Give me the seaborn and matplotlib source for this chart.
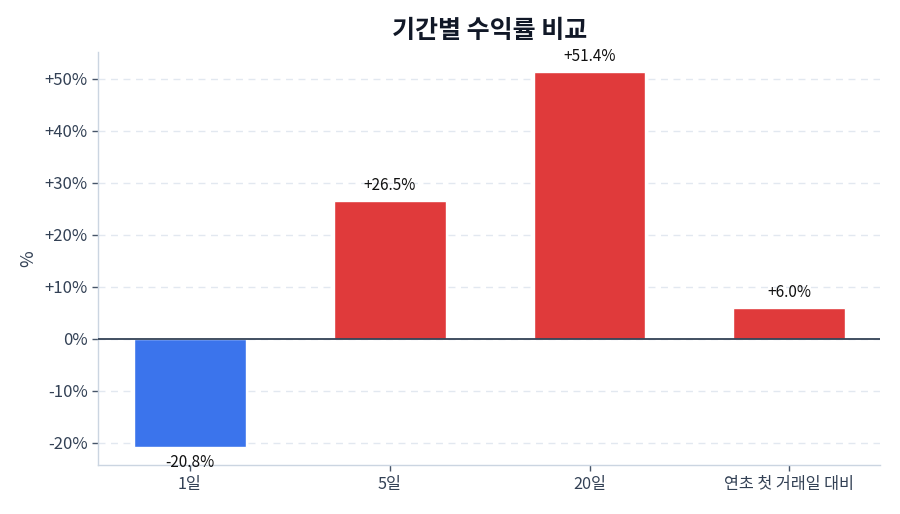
import matplotlib
matplotlib.use("Agg")
import matplotlib.pyplot as plt
import seaborn as sns
import pandas as pd
from matplotlib.ticker import FuncFormatter

categories = ["1일", "5일", "20일", "연초 첫 거래일 대비"]
returns = [-20.8, 26.5, 51.4, 6.0]
title = "기간별 수익률 비교"

POS = "#e03a3b"
NEG = "#3b74ec"
colors = [NEG if v < 0 else POS for v in returns]

sns.set_theme(style="white")
plt.rcParams['font.family'] = ['Noto Sans CJK KR', 'DejaVu Sans']

df = pd.DataFrame({"period": categories, "ret": returns})

fig = plt.figure(figsize=(9, 5.14), dpi=100)
ax = fig.add_axes([0.109, 0.095, 0.869, 0.804])

sns.barplot(data=df, x="period", y="ret", hue="period", palette=colors,
            legend=False, width=0.56, ax=ax, saturation=1)

ax.axhline(0, color="#334155", lw=1.3, zorder=3)
ax.set_ylim(-24.3, 55.2)
ax.set_xlim(-0.46, 3.455)
ax.set_yticks([-20, -10, 0, 10, 20, 30, 40, 50])
ax.yaxis.set_major_formatter(FuncFormatter(lambda v, p: f"{v:+.0f}%" if v != 0 else "0%"))
ax.grid(axis="y", color="#e2e8f0", linestyle=(0, (5, 4)), lw=1)
ax.set_axisbelow(True)

for s in ["top", "right"]:
    ax.spines[s].set_visible(False)
for s in ["left", "bottom"]:
    ax.spines[s].set_color("#cbd5e1")
    ax.spines[s].set_linewidth(1)

ax.tick_params(axis="both", which="both", length=4, width=1, color="#475569",
               labelcolor="#334155", labelsize=12, left=True, bottom=True)
ax.tick_params(axis="x", labelsize=11.7)
ax.set_xlabel("")
ax.set_ylabel("%", fontsize=13, color="#334155", labelpad=5)
ax.set_title(title, fontsize=18, fontweight="bold", color="#111827", pad=10)

for i, v in enumerate(returns):
    if v >= 0:
        ax.annotate(f"{v:+.1f}%", (i, v), xytext=(0, 5), textcoords="offset points",
                    ha="center", va="bottom", fontsize=11, color="#111111")
    else:
        ax.annotate(f"{v:+.1f}%", (i, v), xytext=(0, -5), textcoords="offset points",
                    ha="center", va="top", fontsize=11, color="#111111")

fig.savefig("out.png", dpi=100)
